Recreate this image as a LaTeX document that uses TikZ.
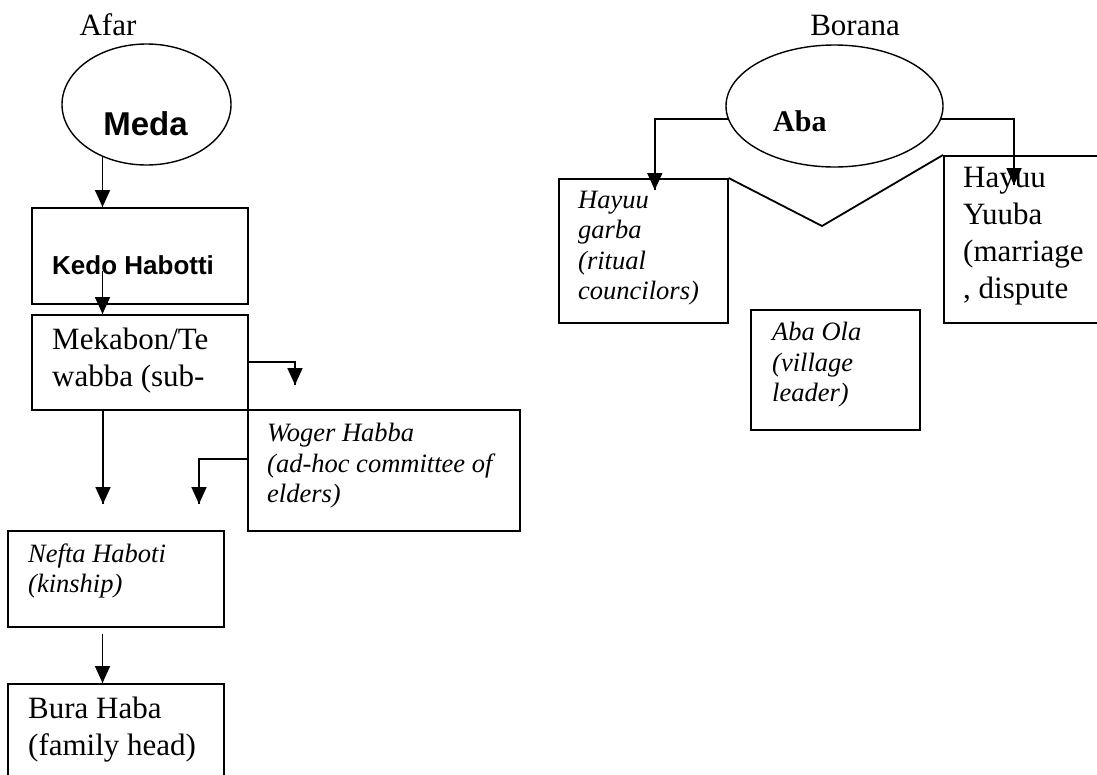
\documentclass[tikz,border=0pt]{standalone}
\usepackage{fontspec}
\setmainfont{Liberation Serif}
\newfontfamily\arialfont{Liberation Sans}
\usetikzlibrary{arrows.meta}
\usetikzlibrary{decorations.markings}
\usetikzlibrary{shapes.geometric}
\tikzset{->/.style = {decoration={markings,mark=at position 1 with {\arrow{Triangle[length=17pt,width=15pt]}}},postaction={decorate}}}
\tikzset{link/.style = {line width=1.8pt}}
\tikzset{box/.style = {draw, line width=1.6pt, rectangle, inner sep=0, anchor=north west}}
\tikzset{oval/.style = {draw, line width=1.4pt, ellipse, inner sep=0}}
\tikzset{lbl/.style = {inner sep=0, align=left, anchor=north west, execute at begin node=\strut}}
\newcommand{\bigrm}{\fontsize{31}{37}\selectfont}
\newcommand{\smallit}{\fontsize{26.5}{30.5}\selectfont\itshape}

\begin{document}
\begin{tikzpicture}[x=1pt,y=-1pt]
        \useasboundingbox (0,0) rectangle (1097,774);
        \clip (0,0) rectangle (1097,774);
        % Afar
        \node [font=\bigrm, anchor=base, inner sep=0] (afar) at (108,35) {Afar};
        \node [oval, minimum width=169, minimum height=121] (meda) at (146.5,104.5) {};
        \node [font=\arialfont\bfseries\fontsize{33}{38}\selectfont, anchor=base, inner sep=0] (medat) at (145.5,135) {Meda};
        \node [box, minimum width=216, minimum height=96] (kedo) at (31,207) {};
        \node [font=\arialfont\bfseries\fontsize{26}{30}\selectfont, anchor=base west, inner sep=0] (kedot) at (52,274) {Kedo Habotti};
        \node [box, minimum width=216, minimum height=95] (mekabon) at (31,314) {};
        \node [lbl, font=\bigrm] (mekabont) at (52,328.1) {Mekabon/Te\\wabba (sub-};
        \node [box, minimum width=272, minimum height=121] (woger) at (247,409) {};
        \node [lbl, font=\smallit] (wogert) at (267,423.2) {Woger Habba\\(ad-hoc committee of\\elders)};
        \node [box, minimum width=216, minimum height=96] (nefta) at (7,530) {};
        \node [lbl, font=\smallit] (neftat) at (28,543.2) {Nefta Haboti\\(kinship)};
        \node [box, minimum width=216, minimum height=110] (bura) at (7,683) {};
        \node [lbl, font=\bigrm] (burat) at (28,697.1) {Bura Haba\\(family head)};
        \coordinate (spine) at (meda.230);
        \coordinate (t1) at (295,385);
        \coordinate (t2) at (103,504);
        \coordinate (t3) at (199,504);
        \draw [link, ->] (spine) -- (spine |- kedo.north);
        \draw [link, ->] (spine |- kedo.center) ++(0,15) -- (spine |- mekabon.north);
        \draw [link, ->] (mekabon.east) -| (t1);
        \draw [link, ->] (t2 |- mekabon.south) -- (t2);
        \draw [link, ->] ([yshift=11.5pt]woger.west) -| (t3);
        \draw [link, ->] (spine |- nefta.south) ++(0,6) -- (spine |- bura.north);
        % Borana
        \node [font=\bigrm, anchor=base, inner sep=0] (borana) at (855,35) {Borana};
        \node [oval, minimum width=217, minimum height=122] (aba) at (834.5,106) {};
        \node [font=\bfseries\fontsize{30}{35}\selectfont, anchor=base west, inner sep=0] (abat) at (773,131) {Aba};
        \node [box, minimum width=169, minimum height=144] (garba) at (558,178) {};
        \node [lbl, font=\smallit] (garbat) at (578,190.9) {Hayuu\\garba\\(ritual\\councilors)};
        \node [box, minimum width=169, minimum height=120] (abaola) at (750,309) {};
        \node [lbl, font=\smallit] (abaolat) at (772,322.2) {Aba Ola\\(village\\leader)};
        \node [box, minimum width=170, minimum height=167] (yuuba) at (943,155) {};
        \node [lbl, font=\bigrm] (yuubat) at (963,167.1) {Hayuu\\Yuuba\\(marriage\\, dispute};
        \coordinate (zig) at (822,226);
        \draw [link] (garba.north east) -- (zig) -- (yuuba.north west);
        \draw [link, ->] (aba.187) -| ([xshift=11.5pt,yshift=-12pt]garba.north);
        \draw [link, ->] (aba.-7) -| ([xshift=71pt,yshift=-30pt]yuuba.north west);
    \end{tikzpicture}
\end{document}
